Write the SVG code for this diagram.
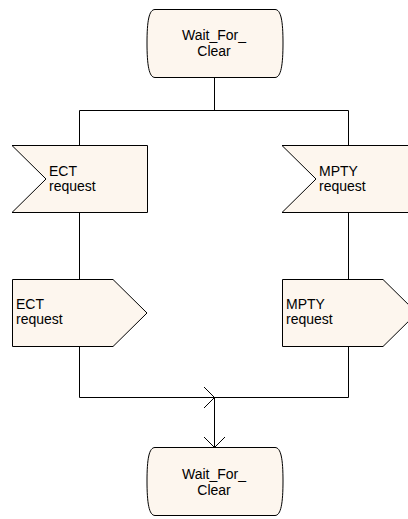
<svg xmlns="http://www.w3.org/2000/svg" width="408" height="519" viewBox="0 0 408 519">
<style>
.shape{fill:#fdf6ee;stroke:#000;stroke-width:1}
.line{fill:none;stroke:#000;stroke-width:1}
text{font-family:"Liberation Sans",Arial,sans-serif;font-size:14px;fill:#000}
.c{text-anchor:middle}
</style>
<rect width="408" height="519" fill="#fff"/>
<g id="connectors">
<path class="line" d="M214.5,77 V110.5 M79.5,110.5 H348.5 M79.5,110.5 V145 M348.5,110.5 V145"/>
<path class="line" d="M79.5,212 V279 M348.5,212 V279"/>
<path class="line" d="M79.5,346 V397.5 H348.5 V346"/>
<path class="line" d="M204,387 L214.5,397.5 L204,408"/>
<path class="line" d="M214.5,397.5 V447"/>
<path class="line" d="M204,437 L214.5,447.5 L225,437"/>
</g>
<g id="state_top">
<path class="shape" d="M155,9.5 H275 C281,9.5 283,21 283,43 C283,65 281,77.5 275,77.5 H155 C149,77.5 147,65 147,43 C147,21 149,9.5 155,9.5 Z"/>
<text class="c" x="214" y="40">Wait_For_</text>
<text class="c" x="214" y="56">Clear</text>
</g>
<g id="input_ect">
<path class="shape" d="M12,145.5 H147.5 V212.5 H12 L46,179 Z"/>
<text x="49" y="176">ECT</text>
<text x="49" y="191">request</text>
</g>
<g id="input_mpty">
<path class="shape" d="M282,145.5 H417.5 V212.5 H282 L316,179 Z"/>
<text x="319" y="176">MPTY</text>
<text x="319" y="191">request</text>
</g>
<g id="output_ect">
<path class="shape" d="M12.5,279.5 H113 L147,313 L113,346.5 H12.5 Z"/>
<text x="16" y="309">ECT</text>
<text x="16" y="324">request</text>
</g>
<g id="output_mpty">
<path class="shape" d="M282.5,279.5 H383 L417,313 L383,346.5 H282.5 Z"/>
<text x="286" y="309">MPTY</text>
<text x="286" y="324">request</text>
</g>
<g id="state_bottom">
<path class="shape" d="M155,447.5 H275 C281,447.5 283,459 283,481 C283,503 281,515.5 275,515.5 H155 C149,515.5 147,503 147,481 C147,459 149,447.5 155,447.5 Z"/>
<text class="c" x="214" y="479">Wait_For_</text>
<text class="c" x="214" y="495">Clear</text>
</g>
</svg>
